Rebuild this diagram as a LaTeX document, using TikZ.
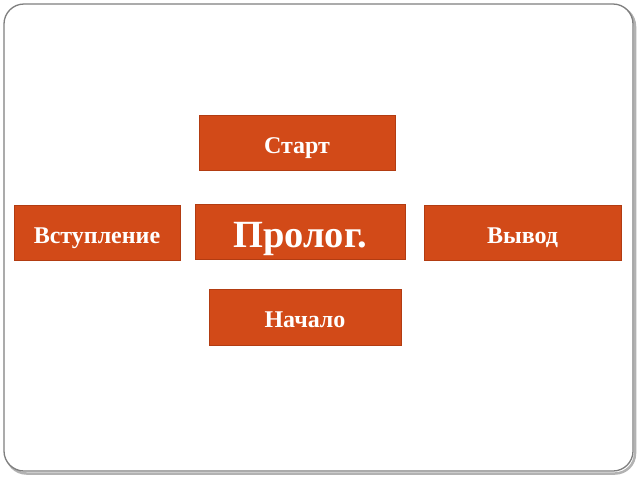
\documentclass[tikz,border=0pt]{standalone}
\usepackage{fontspec}
\setmainfont{Liberation Serif}
\definecolor{boxfill}{HTML}{D24A18}
\definecolor{boxline}{HTML}{B23C12}
\definecolor{framecol}{HTML}{7F7F7F}
\tikzset{
  box/.style={draw=boxline, fill=boxfill, line width=0.8pt, text=white,
    font=\bfseries\fontsize{24}{26}\selectfont, minimum height=55pt, inner sep=0pt,
    text height=22pt, text depth=1pt},
  bigbox/.style={box, font=\bfseries\fontsize{38.5}{40}\selectfont,
    text height=33pt, text depth=1.6pt},
}
\begin{document}
\begin{tikzpicture}[x=1pt,y=-1pt]
\useasboundingbox (0,0) rectangle (640,480);
\fill[white] (0,0) rectangle (640,480);
% frame shadow
\draw[gray!60, line width=2.5pt, rounded corners=20pt] (6.5,6.5) rectangle (635,473.5);
\filldraw[fill=white, draw=framecol, line width=1.3pt, rounded corners=20pt] (4,4) rectangle (633,471);
\node[box, minimum width=196pt] (start) at (297,142.5) {Старт};
\node[box, minimum width=166pt] (vst) at (97,232.5) {Вступление};
\node[bigbox, minimum width=210pt] (prol) at (300,232) {Пролог.};
\node[box, minimum width=197pt] (vyv) at (522.5,232.5) {Вывод};
\node[box, minimum width=192pt, minimum height=56pt] (nach) at (305,317) {Начало};
\end{tikzpicture}
\end{document}
